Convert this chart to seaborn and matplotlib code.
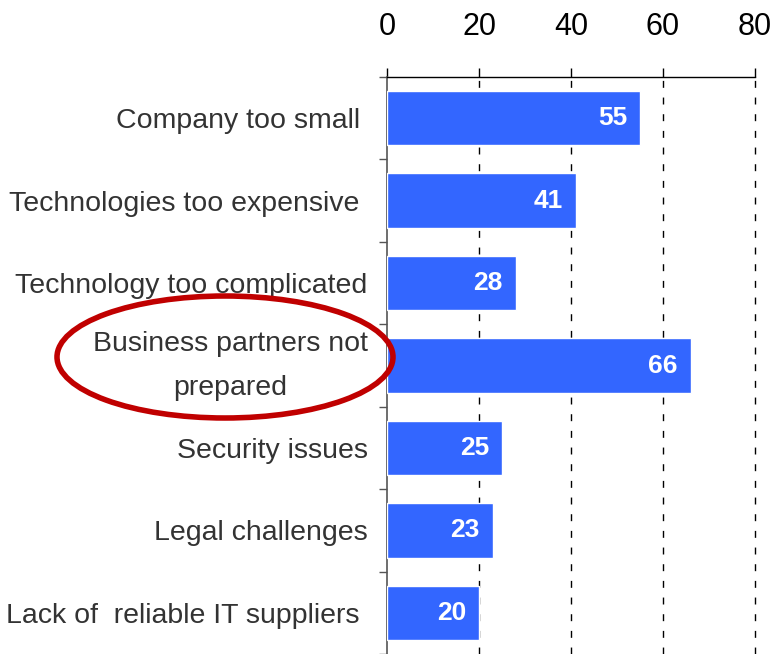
import matplotlib
matplotlib.use("Agg")
import matplotlib.pyplot as plt
from matplotlib.patches import Ellipse
import seaborn as sns
import pandas as pd

categories = [
    "Company too small ",
    "Technologies too expensive ",
    "Technology too complicated",
    "Business partners not\nprepared",
    "Security issues",
    "Legal challenges",
    "Lack of  reliable IT suppliers ",
]
values = [55, 41, 28, 66, 25, 23, 20]
x_ticks = [0, 20, 40, 60, 80]

df = pd.DataFrame({"reason": categories, "share": values})

sns.set_theme(style="white")
plt.rcParams["font.family"] = ["Liberation Sans", "DejaVu Sans"]

fig = plt.figure(figsize=(7.76, 6.54), dpi=100)
ax = fig.add_axes([387 / 776, 0.0, (755 - 387) / 776, 1 - 77 / 654])

sns.barplot(data=df, x="share", y="reason", orient="h", color="#3366FF",
            saturation=1, width=0.66, ax=ax, zorder=3)

ax.set_xlim(0, 80)
ax.set_ylim(len(categories) - 0.5, -0.5)
ax.set_xlabel("")
ax.set_ylabel("")

# value axis on top with dashed reference lines
ax.xaxis.tick_top()
ax.set_xticks(x_ticks)
ax.set_xticklabels([str(t) for t in x_ticks], fontsize=22, color="black")
ax.tick_params(axis="x", which="major", direction="out", length=6.5, width=1,
               color="black", pad=19, top=True, bottom=False)
for t in x_ticks[1:]:
    ax.axvline(t, color="black", linewidth=1, linestyle=(0, (5, 7)),
               zorder=1, clip_on=False)

# category axis: labels centred on bars, ticks at the boundaries
ax.set_yticks(range(len(categories)))
ax.set_yticklabels(categories, fontsize=20.5, color="#333333",
                   multialignment="center")
for lab in ax.get_yticklabels():
    if "\n" in lab.get_text():
        lab.set_linespacing(1.9)
        lab.set_verticalalignment("center")
ax.tick_params(axis="y", which="major", length=0, pad=14)
ax.set_yticks([i - 0.5 for i in range(len(categories) + 1)], minor=True)
ax.tick_params(axis="y", which="minor", direction="out", length=6, width=1,
               color="#555555", left=True)

for side in ["right", "bottom"]:
    ax.spines[side].set_visible(False)
ax.spines["top"].set_color("black")
ax.spines["top"].set_linewidth(1)
ax.spines["left"].set_color("#555555")
ax.spines["left"].set_linewidth(1.2)
ax.grid(False)

for i, v in enumerate(values):
    ax.annotate(str(v), xy=(v, i), xytext=(-13, 0), textcoords="offset pixels",
                ha="right", va="center", color="white", fontsize=19,
                fontweight="bold", zorder=4)

# highlight ring around the key reason
ring = Ellipse((225 / 776, 1 - 357 / 654), 336 / 776, 122 / 654,
               transform=fig.transFigure, fill=False, edgecolor="#C00000",
               linewidth=4, zorder=10)
fig.patches.append(ring)

fig.savefig("out.png", dpi=100)
